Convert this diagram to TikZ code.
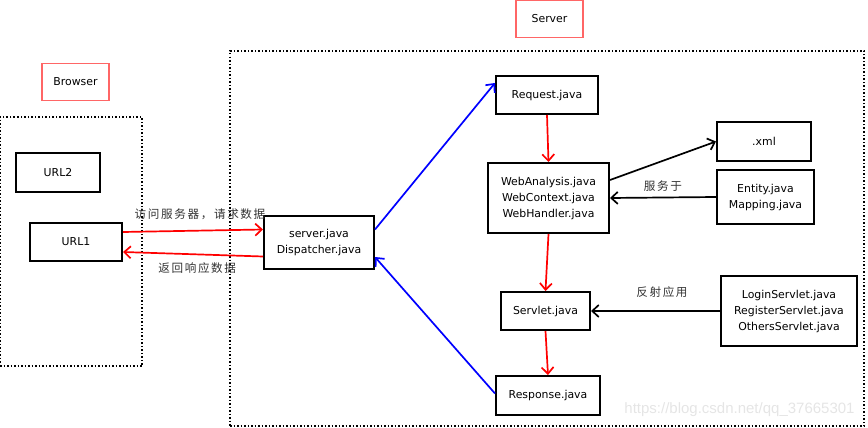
\documentclass[tikz,border=0pt]{standalone}
\usepackage{fontspec}
\setmainfont{DejaVu Sans}
\newfontfamily\cjk[LetterSpace=14]{Noto Sans CJK SC}
\newfontfamily\wmfont{Liberation Sans}
\usetikzlibrary{arrows.meta, positioning}

\begin{document}
\begin{tikzpicture}[
        x=1pt, y=-1pt,
        font=\fontsize{10.9}{16}\selectfont,
        block/.style={
            draw,
            line width=2pt,
            align=center,
            inner sep=0pt,
            fill=white
        },
        tag/.style={
            draw=red!60,
            line width=1.2pt,
            inner sep=0pt,
            minimum width=67pt,
            minimum height=37pt
        },
        frame/.style={
            draw,
            dotted,
            line width=1.5pt,
            inner sep=0pt
        },
        arrow/.style={
            -{Straight Barb[length=6.5pt,width=12pt]},
            line width=1.7pt
        },
        flow/.style={arrow, red},
        call/.style={arrow, blue},
        ref/.style={arrow, black},
        labeltext/.style={
            font=\cjk\fontsize{11.6}{13}\selectfont,
            text=black!80,
            inner sep=1pt
        }
    ]

    \useasboundingbox (0,0) rectangle (868,428);

    % frames and titles
    \node[frame, minimum width=142pt, minimum height=249pt] (browserbox) at (71,241.5) {};
    \node[frame, minimum width=634pt, minimum height=375pt] (serverbox) at (547,238.5) {};
    \node[tag] (browsertag) at (75.5,82) {Browser};
    \node[tag] (servertag) at (549.5,19) {Server};

    % browser side
    \node[block, minimum width=84pt, minimum height=39pt] (url2) at (58,172.5) {URL2};
    \node[block, minimum width=92pt, minimum height=38pt] (url1) at (76,242) {URL1};

    % server side
    \node[block, minimum width=110pt, minimum height=53pt] (server) at (319,242.5) {server.java\\Dispatcher.java};
    \node[block, minimum width=102pt, minimum height=38pt] (request) at (547,95) {Request.java};
    \node[block, minimum width=121pt, minimum height=70pt] (analysis) at (548.5,198) {WebAnalysis.java\\WebContext.java\\WebHandler.java};
    \node[block, minimum width=94pt, minimum height=39pt] (xml) at (764,141.5) {.xml};
    \node[block, minimum width=97pt, minimum height=54pt] (entity) at (765.5,197) {Entity.java\\Mapping.java};
    \node[block, minimum width=89pt, minimum height=38pt] (servlet) at (545.5,311) {Servlet.java};
    \node[block, minimum width=104pt, minimum height=39pt] (response) at (548,395.5) {Response.java};
    \node[block, minimum width=136pt, minimum height=70pt] (servlets) at (789,311) {LoginServlet.java\\RegisterServlet.java\\OthersServlet.java};

    \node[font=\wmfont\fontsize{15}{15}\selectfont, text=gray!20] (watermark) at (739.5,410) {https://blog.csdn.net/qq\_37665301};

    % connectors
    \draw[flow] ([yshift=10pt]url1.east) -- node[labeltext, above=9pt, pos=0.55] {访问服务器，请求数据} ([yshift=13pt]server.west);
    \draw[flow] ([yshift=-14pt]server.west) -- node[labeltext, below=6pt, pos=0.47] {返回响应数据} ([yshift=-10pt]url1.east);
    \draw[call] ([yshift=13pt]server.east) -- ([yshift=12pt]request.west);
    \draw[call] ([yshift=2pt]response.west) -- ([yshift=-14.5pt]server.east);
    \draw[flow] (request.south) -- (analysis.north);
    \draw[flow] (analysis.south) -- (servlet.north);
    \draw[flow] (servlet.south) -- (response.north);
    \draw[ref] ([yshift=18pt]analysis.east) -- (xml.west);
    \draw[ref] (entity.west) -- node[labeltext, above=4pt] {服务于} (analysis.east);
    \draw[ref] (servlets.west) -- node[labeltext, above=12pt, pos=0.45] {反射应用} (servlet.east);

\end{tikzpicture}
\end{document}
